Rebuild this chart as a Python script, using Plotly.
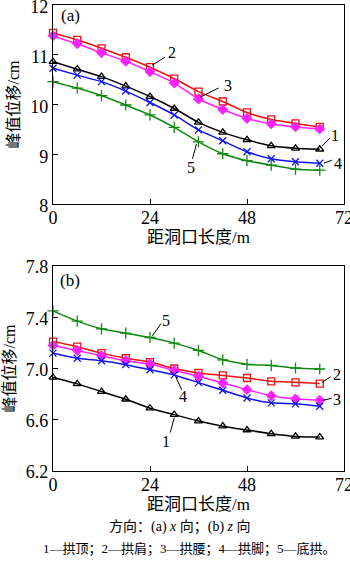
import plotly.graph_objects as go

# ---------------- data ----------------
x_m = [0, 6, 12, 18, 24, 30, 36, 42, 48, 54, 60, 66]
series_names = ["1", "2", "3", "4", "5"]

# (a) x direction peak displacement, cm
a_s1 = [10.86, 10.71, 10.56, 10.37, 10.16, 9.92, 9.64, 9.44, 9.29, 9.17, 9.12, 9.10]
a_s2 = [11.44, 11.30, 11.13, 10.95, 10.75, 10.52, 10.26, 10.06, 9.84, 9.70, 9.62, 9.55]
a_s3 = [11.38, 11.22, 11.04, 10.87, 10.66, 10.43, 10.11, 9.90, 9.72, 9.61, 9.55, 9.51]
a_s4 = [10.73, 10.59, 10.46, 10.27, 10.04, 9.79, 9.49, 9.27, 9.05, 8.91, 8.85, 8.82]
a_s5 = [10.46, 10.33, 10.18, 9.99, 9.79, 9.54, 9.25, 9.01, 8.87, 8.78, 8.70, 8.68]

# (b) z direction peak displacement, cm
b_s1 = [6.93, 6.88, 6.82, 6.76, 6.69, 6.64, 6.59, 6.55, 6.52, 6.49, 6.47, 6.465]
b_s2 = [7.21, 7.17, 7.12, 7.08, 7.05, 7.00, 6.965, 6.946, 6.926, 6.90, 6.892, 6.882]
b_s3 = [7.18, 7.14, 7.10, 7.06, 7.035, 6.985, 6.94, 6.887, 6.835, 6.788, 6.763, 6.752]
b_s4 = [7.12, 7.08, 7.06, 7.03, 6.99, 6.95, 6.89, 6.83, 6.77, 6.732, 6.724, 6.705]
b_s5 = [7.45, 7.37, 7.31, 7.276, 7.242, 7.198, 7.141, 7.068, 7.032, 7.024, 7.004, 6.996]

a_data = [a_s1, a_s2, a_s3, a_s4, a_s5]
b_data = [b_s1, b_s2, b_s3, b_s4, b_s5]

x_ticks = [0, 24, 48, 72]
a_ticks = [8, 9, 10, 11, 12]
b_ticks = [6.2, 6.6, 7.0, 7.4, 7.8]

x_title = "距洞口长度/m"
y_title = "峰值位移/cm"
caption1 = "方向：(a) <i>x</i> 向；(b) <i>z</i> 向"
caption2 = "1—拱顶；2—拱肩；3—拱腰；4—拱脚；5—底拱。"

# ---------------- styles ----------------
W, H = 350, 563
SERIF = "Liberation Serif, Times New Roman, Noto Sans CJK SC"
colors = ["#000000", "#ee1111", "#ff22ff", "#1111ee", "#118811"]
symbols = ["triangle-up-open", "square-open", "diamond", "x-thin-open", "cross-thin-open"]
msizes = [7, 7, 7, 7, 8]

fig = go.Figure()

for panel, data, xa, ya in (("a", a_data, "x", "y"), ("b", b_data, "x2", "y2")):
    for i, ys in enumerate(data):
        fig.add_trace(go.Scatter(
            x=x_m, y=ys, xaxis=xa, yaxis=ya, name=series_names[i],
            mode="lines+markers",
            line=dict(color=colors[i], width=1.5, shape="spline", smoothing=0.5),
            marker=dict(symbol=symbols[i], size=msizes[i], color=colors[i],
                        line=dict(color=colors[i], width=1.3)),
            showlegend=False, cliponaxis=False,
        ))

# label specs: (panel, series index, point index, leader start, leader end, text) offsets in screen px (dy down)
labels = [
    ("a", 1, 4, (2, -2), (15, -10), (22, -15)),
    ("a", 2, 6, (2, -2), (20, -11), (29, -14)),
    ("a", 0, 11, (2, -3), (10, -11), (15, -14)),
    ("a", 3, 11, (4, 0), (12, -3), (18, 0)),
    ("a", 4, 6, (-2, 2), (-6, 17), (-8, 26)),
    ("b", 4, 4, (2, -1), (11, -14), (16, -17)),
    ("b", 3, 5, (1.5, 2), (7.5, 15), (9, 22)),
    ("b", 1, 11, (2, -1), (11, -7), (17, -9)),
    ("b", 2, 11, (3, 0), (12, -2), (17, -1)),
    ("b", 0, 5, (0, 3), (-4, 18), (-8.5, 27)),
]

shapes = []
annotations = []
for panel, si, pi, p0, p1, pt in labels:
    data = a_data if panel == "a" else b_data
    xr, yr = ("x", "y") if panel == "a" else ("x2", "y2")
    xv, yv = x_m[pi], data[si][pi]
    shapes.append(dict(type="line", xref=xr, yref=yr, xsizemode="pixel", ysizemode="pixel",
                       xanchor=xv, yanchor=yv, x0=p0[0], x1=p1[0], y0=-p0[1], y1=-p1[1],
                       line=dict(color="black", width=1)))
    annotations.append(dict(x=xv, y=yv, xref=xr, yref=yr, text=series_names[si],
                            showarrow=False, xshift=pt[0], yshift=-pt[1],
                            xanchor="center", yanchor="middle",
                            font=dict(family=SERIF, size=16, color="black")))

def paper_text(xp, yp, text, size):
    return dict(x=xp / W, y=1 - yp / H, xref="paper", yref="paper", text=text,
                showarrow=False, xanchor="center", yanchor="middle",
                font=dict(family=SERIF, size=size, color="black"))

# panel tags
annotations.append(paper_text(70, 15, "(a)", 17))
annotations.append(paper_text(70, 280, "(b)", 17))
# captions
annotations.append(paper_text(180, 527, caption1, 14))
annotations.append(paper_text(189, 549, caption2, 13))

axis_common = dict(showline=True, linecolor="black", linewidth=1.2, mirror=True,
                   ticks="inside", ticklen=5, tickcolor="black", tickwidth=1.2,
                   showgrid=False, zeroline=False, automargin=False,
                   ticklabeloverflow="allow",
                   tickfont=dict(family=SERIF, size=18, color="black"))

xdom = [53 / W, 344 / W]
fig.update_layout(
    template="none",
    width=W, height=H, margin=dict(l=0, r=0, t=0, b=0, autoexpand=False),
    paper_bgcolor="white", plot_bgcolor="white",
    shapes=shapes, annotations=annotations,
    xaxis=dict(domain=xdom, anchor="y", range=[0, 72], tickvals=x_ticks, ticklabelstandoff=-3,
               title=dict(text=x_title, standoff=1, font=dict(family=SERIF, size=17, color="black")),
               **axis_common),
    yaxis=dict(domain=[1 - 204 / H, 1 - 5 / H], anchor="x", range=[8, 12], tickvals=a_ticks,
               ticklabelshift=2,
               title=dict(text=y_title, standoff=6, font=dict(family=SERIF, size=16, color="black")),
               **axis_common),
    xaxis2=dict(domain=xdom, anchor="y2", range=[0, 72], tickvals=x_ticks, ticklabelstandoff=-3,
                title=dict(text=x_title, standoff=1, font=dict(family=SERIF, size=17, color="black")),
                **axis_common),
    yaxis2=dict(domain=[1 - 471 / H, 1 - 266 / H], anchor="x2", range=[6.2, 7.8], tickvals=b_ticks,
                tickformat=".1f", ticklabelshift=1,
                title=dict(text=y_title, standoff=6, font=dict(family=SERIF, size=16, color="black")),
                **axis_common),
)

fig.write_html("out.html")
